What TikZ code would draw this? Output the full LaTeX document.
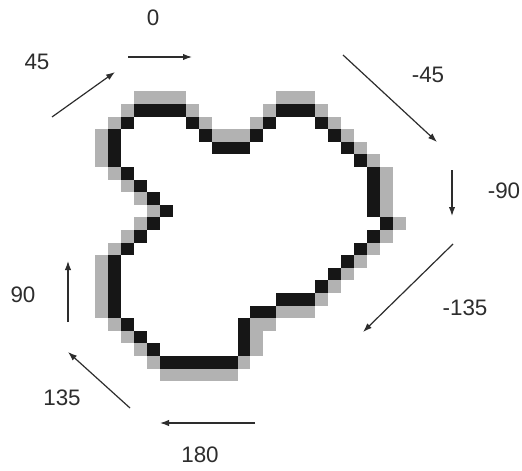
\documentclass[tikz,border=0pt]{standalone}
\usepackage{fontspec}
\setmainfont{Liberation Sans}
\usetikzlibrary{arrows.meta}
\definecolor{pixblack}{RGB}{22,22,22}
\definecolor{pixgray}{RGB}{178,178,178}
\definecolor{ink}{RGB}{45,45,45}
\tikzset{
  dirarrow/.style={draw=ink, line width=0.6pt, -{Latex[length=4.5pt,width=3.2pt]}},
  dirlabel/.style={text=ink, font=\fontsize{11.2}{13}\selectfont, inner sep=0pt},
}
\begin{document}
\begin{tikzpicture}[x=0.5pt,y=-0.5pt]
\useasboundingbox[fill=white] (0,0) rectangle (522,470);
% pixel contour
\begin{scope}[shift={(108,104)}, x=6.475pt, y=-6.3pt]
  \foreach \c/\r in {2/-1,3/-1,4/-1,5/-1,13/-1,14/-1,15/-1,
    1/0,6/0,12/0,16/0, 0/1,7/1,11/1,17/1,
    -1/2,8/2,9/2,10/2,18/2, -1/3,19/3, -1/4,20/4,
    0/5,21/5, 1/6,21/6, 2/7,21/7, 3/8,21/8, 2/9,22/9,
    1/10,21/10, 0/11,20/11, -1/12,19/12, -1/13,18/13,
    -1/14,17/14, -1/15,16/15, -1/16,13/16,14/16,15/16,
    0/17,11/17,12/17, 1/18,11/18, 2/19,11/19, 3/20,10/20,
    4/21,5/21,6/21,7/21,8/21,9/21}
    \fill[pixgray] (\c,\r) rectangle ++(1,1);
  \foreach \c/\r in {2/0,3/0,4/0,5/0,13/0,14/0,15/0,
    1/1,6/1,12/1,16/1, 0/2,7/2,11/2,17/2,
    0/3,8/3,9/3,10/3,18/3, 0/4,19/4, 1/5,20/5, 2/6,20/6,
    3/7,20/7, 4/8,20/8, 3/9,21/9, 2/10,20/10, 1/11,19/11,
    0/12,18/12, 0/13,17/13, 0/14,16/14,
    0/15,13/15,14/15,15/15, 0/16,11/16,12/16,
    1/17,10/17, 2/18,10/18, 3/19,10/19,
    4/20,5/20,6/20,7/20,8/20,9/20}
    \fill[pixblack] (\c,\r) rectangle ++(1,1);
\end{scope}
% direction arrows
\coordinate (a0s) at (128,57);   \coordinate (a0e) at (192,57);
\coordinate (a45s) at (52,117);  \coordinate (a45e) at (115,72);
\coordinate (am45s) at (343,55); \coordinate (am45e) at (437,142);
\coordinate (am90s) at (452,170);\coordinate (am90e) at (452,216);
\coordinate (am135s) at (453,244);\coordinate (am135e) at (363,332);
\coordinate (a180s) at (255,423);\coordinate (a180e) at (160,423);
\coordinate (a135s) at (130,408);\coordinate (a135e) at (68,352);
\coordinate (a90s) at (68,322);  \coordinate (a90e) at (68,261);
\draw[dirarrow] (a0s) -- (a0e);
\draw[dirarrow] (a45s) -- (a45e);
\draw[dirarrow] (am45s) -- (am45e);
\draw[dirarrow] (am90s) -- (am90e);
\draw[dirarrow] (am135s) -- (am135e);
\draw[dirarrow] (a180s) -- (a180e);
\draw[dirarrow] (a135s) -- (a135e);
\draw[dirarrow] (a90s) -- (a90e);
% labels
\node[dirlabel] (l0) at (153,18) {0};
\node[dirlabel] (l45) at (37,62) {45};
\node[dirlabel] (lm45) at (428,75) {-45};
\node[dirlabel] (lm90) at (504,191) {-90};
\node[dirlabel] (lm135) at (465,308) {-135};
\node[dirlabel] (l180) at (200,455) {180};
\node[dirlabel] (l135) at (62,398) {135};
\node[dirlabel] (l90) at (23,295) {90};
\end{tikzpicture}
\end{document}
